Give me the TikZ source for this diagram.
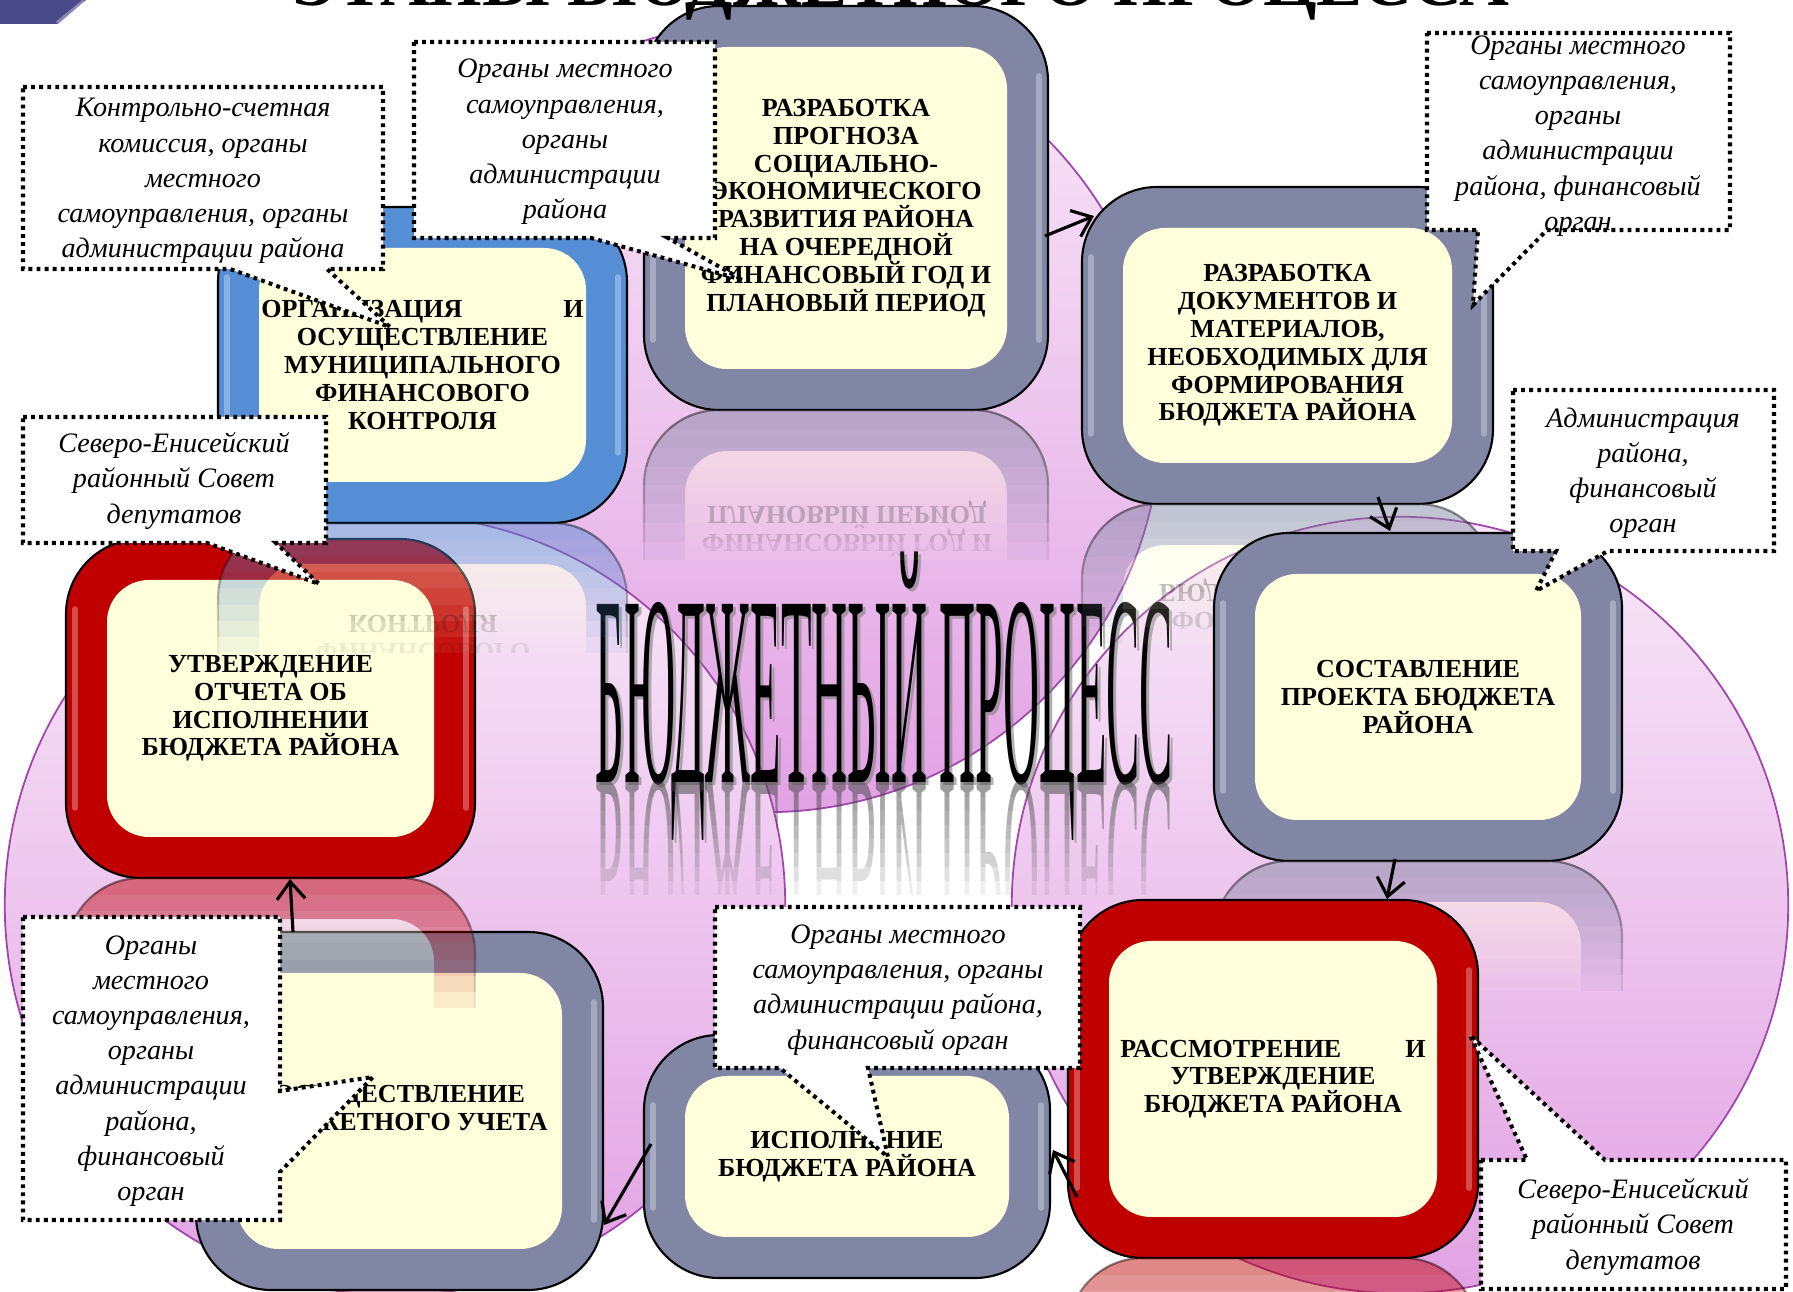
\documentclass[tikz,border=0pt]{standalone}
\usepackage{fontspec}
\setmainfont{Liberation Serif}
\usepackage{graphicx}
\usetikzlibrary{arrows.meta,fit,calc}

\definecolor{frameGray}{RGB}{128,134,163}
\definecolor{frameRed}{RGB}{192,0,0}
\definecolor{frameBlue}{RGB}{85,142,213}
\definecolor{cream}{RGB}{255,255,220}
\definecolor{pinkTop}{RGB}{248,232,248}
\definecolor{pinkBot}{RGB}{226,162,228}
\definecolor{circEdge}{RGB}{160,70,170}
\definecolor{decoBlue}{RGB}{74,74,138}

\tikzset{
  frame/.style={draw=black, line width=0.6pt, rounded corners=0.75cm, inner sep=0pt},
  innerbox/.style={fill=cream, rounded corners=0.42cm, inner sep=0pt},
  gloss/.style={white, opacity=0.3, line width=1.6pt, line cap=round},
  stagetext/.style={font=\fontsize{7.4}{7.9}\selectfont\bfseries, align=center, inner sep=0pt, text=black},
  calltext/.style={font=\fontsize{8}{10}\selectfont\itshape, align=center, inner sep=0pt},
  callout/.style={fill=white, draw=black, line width=1.15pt, dash pattern=on 1.1pt off 1.2pt},
  arr/.style={-{Straight Barb[length=5pt,width=8pt]}, line width=0.9pt},
  circ/.style={draw=circEdge, line width=0.5pt, top color=pinkTop, bottom color=pinkBot},
  refltext/.style={stagetext, transform shape},
}

\newcommand\StageBox[7]{%
  \pgfmathtruncatemacro\sbxa{#3+41}%
  \pgfmathtruncatemacro\sbya{#4+41}%
  \pgfmathtruncatemacro\sbxb{#5-41}%
  \pgfmathtruncatemacro\sbyb{#6-41}%
  \node[frame, fill=#2, fit={(#3,#4)(#5,#6)}] (#1) {};
  \draw[gloss] (#3+9,#4+70) -- (#3+9,#6-70);
  \draw[gloss] (#5-9,#4+70) -- (#5-9,#6-70);
  \node[innerbox, fit={(\sbxa,\sbya)(\sbxb,\sbyb)}] (#1i) {};
  \node[stagetext] (#1t) at (#1i.center) {#7};
}

% mirrored reflection under a stage box, faded by stacking nested layers
\newcommand\StageRefl[7]{% #1 color #2 x1 #3 y1 #4 x2 #5 y2 #6 mirrored text lines #7 height
  \foreach \k in {1,...,8}{%
    \begin{scope}
      \clip (#2-5,#5) rectangle (#4+5,#5+\k*#7/8);
      \begin{scope}[shift={(0,2*#5)}, yscale=-1, opacity=0.075, text opacity=0.075]
        \fill[#1, even odd rule] [rounded corners=0.75cm] (#2,#3) rectangle (#4,#5)
              [rounded corners=0.42cm] (#2+41,#3+41) rectangle (#4-41,#5-41);
        \fill[cream, rounded corners=0.42cm] (#2+41,#3+41) rectangle (#4-41,#5-41);
        \draw[black, line width=0.6pt, rounded corners=0.75cm] (#2,#3) rectangle (#4,#5);
        #6
      \end{scope}
    \end{scope}
  }%
}

\newcommand\TitleText{\resizebox{5.77cm}{1.78cm}{\smash{БЮДЖЕТНЫЙ ПРОЦЕСС}\vphantom{Б}}}

\begin{document}
\begin{tikzpicture}[x=0.01cm,y=-0.01cm]
\useasboundingbox (0,0) rectangle (1793,1292);
\clip (0,0) rectangle (1793,1292);
\fill[white] (0,0) rectangle (1793,1292);

% background circles
\path[circ] (766,417) circle[radius=3.95cm];
\path[circ] (1400,905) circle[radius=3.88cm];
\path[circ] (395,905) circle[radius=3.90cm];

% central title with shadow and reflection
\node[anchor=base west, inner sep=0pt, text=black!50, text opacity=0.6] (titleshadow) at (598,786) {\TitleText};
\node[anchor=base west, inner sep=0pt] (title) at (595,783) {\TitleText};
\foreach \k in {1,...,8}{%
  \begin{scope}
    \clip (580,783) rectangle (1200,783+\k*14);
    \begin{scope}[shift={(0,1566)}, yscale=-1]
      \node[anchor=base west, inner sep=0pt, transform shape, text=black!70, text opacity=0.09] (titlerefl) at (595,783) {\TitleText};
    \end{scope}
  \end{scope}
}

% stages and their reflections
\StageBox{b1}{frameGray}{644}{6}{1048}{410}{РАЗРАБОТКА\\ПРОГНОЗА\\СОЦИАЛЬНО-\\ЭКОНОМИЧЕСКОГО\\РАЗВИТИЯ РАЙОНА\\НА ОЧЕРЕДНОЙ\\ФИНАНСОВЫЙ ГОД И\\ПЛАНОВЫЙ ПЕРИОД}
\StageRefl{frameGray}{644}{6}{1048}{410}{%
  \node[refltext] (r1a) at (847,305) {ПЛАНОВЫЙ ПЕРИОД};
  \node[refltext] (r1b) at (847,277) {ФИНАНСОВЫЙ ГОД И};}{150}

\StageBox{b2}{frameGray}{1082}{187}{1493}{504}{РАЗРАБОТКА\\ДОКУМЕНТОВ И\\МАТЕРИАЛОВ,\\НЕОБХОДИМЫХ ДЛЯ\\ФОРМИРОВАНИЯ\\БЮДЖЕТА РАЙОНА}
\StageRefl{frameGray}{1082}{187}{1493}{504}{%
  \node[refltext] (r2a) at (1288,415) {БЮДЖЕТА РАЙОНА};
  \node[refltext] (r2b) at (1288,387) {ФОРМИРОВАНИЯ};}{140}

\StageBox{b3}{frameGray}{1214}{533}{1622}{861}{СОСТАВЛЕНИЕ\\ПРОЕКТА БЮДЖЕТА\\РАЙОНА}
\StageRefl{frameGray}{1214}{533}{1622}{861}{}{130}

\StageBox{b4}{frameRed}{1068}{900}{1478}{1258}{\makebox[3.05cm][s]{РАССМОТРЕНИЕ\hfill И}\\УТВЕРЖДЕНИЕ\\БЮДЖЕТА РАЙОНА}
\StageRefl{frameRed}{1068}{900}{1478}{1258}{}{130}

\StageBox{b5}{frameGray}{644}{1035}{1050}{1278}{ИСПОЛНЕНИЕ\\БЮДЖЕТА РАЙОНА}

\StageBox{b6}{frameGray}{196}{932}{603}{1290}{ОСУЩЕСТВЛЕНИЕ\\БЮДЖЕТНОГО УЧЕТА}

\StageBox{b7}{frameRed}{66}{539}{475}{878}{УТВЕРЖДЕНИЕ\\ОТЧЕТА ОБ\\ИСПОЛНЕНИИ\\БЮДЖЕТА РАЙОНА}
\StageRefl{frameRed}{66}{539}{475}{878}{}{130}

\StageBox{b8}{frameBlue}{218}{207}{627}{523}{\makebox[3.22cm][s]{ОРГАНИЗАЦИЯ\hfill И}\\ОСУЩЕСТВЛЕНИЕ\\МУНИЦИПАЛЬНОГО\\ФИНАНСОВОГО\\КОНТРОЛЯ}
\StageRefl{frameBlue}{218}{207}{627}{523}{%
  \node[refltext] (r8a) at (423,422) {КОНТРОЛЯ};
  \node[refltext] (r8b) at (423,394) {ФИНАНСОВОГО};}{130}

% arrows
\coordinate (a1s) at (1045,236); \coordinate (a1e) at (1094,216);
\coordinate (a2s) at (1378,497); \coordinate (a2e) at (1390,531);
\coordinate (a3s) at (1395,859); \coordinate (a3e) at (1387,899);
\coordinate (a4s) at (1077,1197); \coordinate (a4e) at (1053,1150);
\coordinate (a5s) at (651,1144); \coordinate (a5e) at (604,1225);
\coordinate (a6s) at (293,932); \coordinate (a6e) at (290,879);
\draw[arr] (a1s) -- (a1e);
\draw[arr] (a2s) -- (a2e);
\draw[arr] (a3s) -- (a3e);
\draw[arr] (a4s) -- (a4e);
\draw[arr] (a5s) -- (a5e);
\draw[arr] (a6s) -- (a6e);

% callouts
\path[callout] (23,87) -- (383,87) -- (383,269) -- (327,269) -- (390,327) -- (230,269) -- (23,269) -- cycle;
\node[calltext] (c1) at (203,181) {Контрольно-счетная\\комиссия, органы\\местного\\самоуправления, органы\\администрации района};

\path[callout] (414,42) -- (715,42) -- (715,238) -- (668,238) -- (743,280) -- (591,238) -- (414,238) -- cycle;
\node[calltext] (c2) at (565,142) {Органы местного\\самоуправления,\\органы\\администрации\\района};

\path[callout] (1427,33) -- (1730,33) -- (1730,230) -- (1547,230) -- (1473,305) -- (1478,230) -- (1427,230) -- cycle;
\node[calltext] (c3) at (1578,136) {Органы местного\\самоуправления,\\органы\\администрации\\района, финансовый\\орган};

\path[callout] (1513,390) -- (1774,390) -- (1774,551) -- (1608,551) -- (1536,591) -- (1556,551) -- (1513,551) -- cycle;
\node[calltext] (c4) at (1643,473) {Администрация\\района,\\финансовый\\орган};

\path[callout] (1481,1160) -- (1527,1160) -- (1470,1035) -- (1605,1160) -- (1786,1160) -- (1786,1289) -- (1481,1289) -- cycle;
\node[calltext] (c5) at (1633,1227) {Северо-Енисейский\\районный Совет\\депутатов};

\path[callout] (715,907) -- (1080,907) -- (1080,1068) -- (868,1068) -- (888,1157) -- (780,1068) -- (715,1068) -- cycle;
\node[calltext] (c6) at (898,990) {Органы местного\\самоуправления, органы\\администрации района,\\финансовый орган};

\path[callout] (23,417) -- (326,417) -- (326,543) -- (276,543) -- (319,584) -- (207,543) -- (23,543) -- cycle;
\node[calltext] (c7) at (174,481) {Северо-Енисейский\\районный Совет\\депутатов};

\path[callout] (23,917) -- (280,917) -- (280,1091) -- (373,1077) -- (280,1172) -- (280,1220) -- (23,1220) -- cycle;
\node[calltext] (c8) at (151,1071) {Органы\\местного\\самоуправления,\\органы\\администрации\\района,\\финансовый\\орган};

% top title (mostly cut off) and corner decoration
\node[anchor=base, inner sep=0pt] (toptitle) at (900,6) {\resizebox{12.17cm}{!}{\bfseries ЭТАПЫ БЮДЖЕТНОГО ПРОЦЕССА}};
\fill[decoBlue] (0,0) -- (86,0) -- (58,24) -- (0,24) -- cycle;
\draw[white, opacity=0.35, line width=1pt] (84,1) -- (57,23);
\end{tikzpicture}
\end{document}
